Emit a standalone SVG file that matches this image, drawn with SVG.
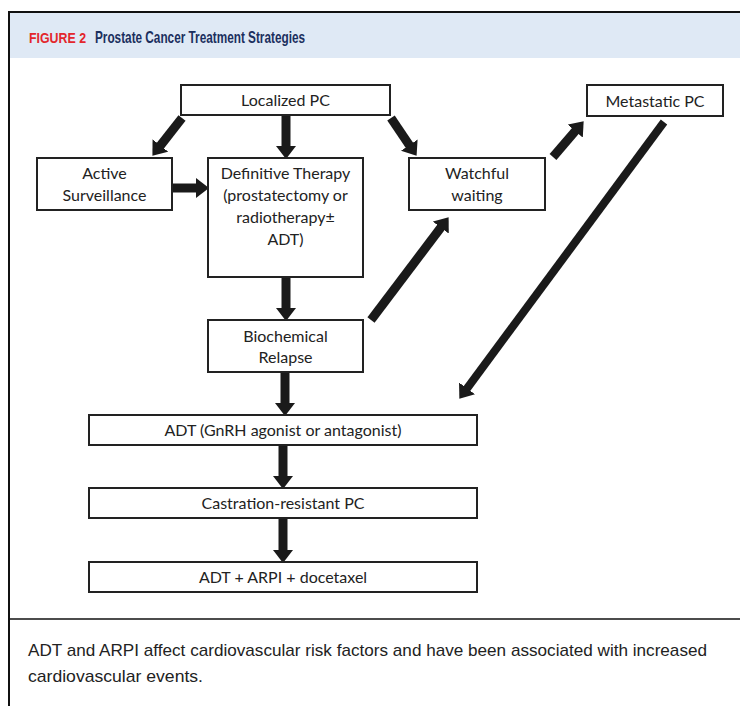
<svg xmlns="http://www.w3.org/2000/svg" width="740" height="706" viewBox="0 0 740 706">
<defs>
<marker id="ah" markerUnits="userSpaceOnUse" markerWidth="13" markerHeight="20" refX="2" refY="10" orient="auto" viewBox="0 0 13 20">
<path d="M0,0 L13,10 L0,20 z" fill="#1a1a1a"/>
</marker>
<style>
.box{fill:#fff;stroke:#222;stroke-width:2}
.t{font-family:Lato,"Open Sans",sans-serif;font-size:16px;fill:#222;text-anchor:middle}
.c{stroke:#1a1a1a;stroke-width:9;fill:none;marker-end:url(#ah)}
.f{font-family:'Liberation Sans Narrow','Liberation Sans',sans-serif;font-size:17px;fill:#222}
</style>
</defs>
<rect x="0" y="0" width="740" height="706" fill="#fff"/>
<rect x="9" y="12" width="740" height="46" fill="#dfe9f5"/>
<path d="M9,706 V12 H740" fill="none" stroke="#111" stroke-width="2"/>
<line x1="9" y1="619" x2="740" y2="619" stroke="#111" stroke-width="1.5"/>
<text x="29" y="43" font-family="'Liberation Sans',sans-serif" font-weight="bold" font-size="15.5" fill="#e3262c" textLength="57" lengthAdjust="spacingAndGlyphs">FIGURE 2</text>
<text x="95" y="43" font-family="'Liberation Sans Narrow','Liberation Sans',sans-serif" font-weight="bold" font-size="17" fill="#1b2f5e" textLength="210" lengthAdjust="spacingAndGlyphs">Prostate Cancer Treatment Strategies</text>

<g id="connectors">
<line class="c" x1="182" y1="118" x2="159.2" y2="147.1"/>
<line class="c" x1="286" y1="115" x2="286" y2="148"/>
<line class="c" x1="391" y1="118" x2="410.4" y2="146.7"/>
<line class="c" x1="553" y1="157" x2="576.5" y2="129.6"/>
<line class="c" x1="172" y1="188" x2="198" y2="188"/>
<line class="c" x1="286" y1="277" x2="286" y2="310"/>
<line class="c" x1="371" y1="320" x2="442" y2="226"/>
<line class="c" x1="664" y1="122" x2="465.9" y2="390" style="stroke-width:8"/>
<line class="c" x1="285" y1="372" x2="285" y2="405"/>
<line class="c" x1="283" y1="445" x2="283" y2="478"/>
<line class="c" x1="283" y1="518" x2="283" y2="552"/>
</g>

<g id="localized"><rect class="box" x="181" y="85" width="209" height="30"/><text class="t" x="285.5" y="106">Localized PC</text></g>
<g id="active"><rect class="box" x="37" y="158" width="135" height="52"/><text class="t" x="104.5" y="179">Active</text><text class="t" x="104.5" y="201">Surveillance</text></g>
<g id="definitive"><rect class="box" x="208" y="158" width="155" height="119"/><text class="t" x="285.5" y="179">Definitive Therapy</text><text class="t" x="285.5" y="201">(prostatectomy or</text><text class="t" x="285.5" y="223">radiotherapy±</text><text class="t" x="285.5" y="245">ADT)</text></g>
<g id="watchful"><rect class="box" x="409" y="158" width="136" height="52"/><text class="t" x="477" y="179">Watchful</text><text class="t" x="477" y="201">waiting</text></g>
<g id="metastatic"><rect class="box" x="587" y="85" width="136" height="31"/><text class="t" x="655" y="107">Metastatic PC</text></g>
<g id="biochemical"><rect class="box" x="208" y="320" width="155" height="52"/><text class="t" x="285.5" y="342">Biochemical</text><text class="t" x="285.5" y="363">Relapse</text></g>
<g id="adt"><rect class="box" x="89" y="415" width="388" height="30"/><text class="t" x="283" y="436">ADT (GnRH agonist or antagonist)</text></g>
<g id="crpc"><rect class="box" x="89" y="488" width="388" height="30"/><text class="t" x="283" y="509">Castration-resistant PC</text></g>
<g id="arpi"><rect class="box" x="89" y="562" width="388" height="30"/><text class="t" x="283" y="583">ADT + ARPI + docetaxel</text></g>

<text class="f" x="28" y="656" textLength="679" lengthAdjust="spacingAndGlyphs">ADT and ARPI affect cardiovascular risk factors and have been associated with increased</text>
<text class="f" x="28" y="682" textLength="175" lengthAdjust="spacingAndGlyphs">cardiovascular events.</text>
</svg>
